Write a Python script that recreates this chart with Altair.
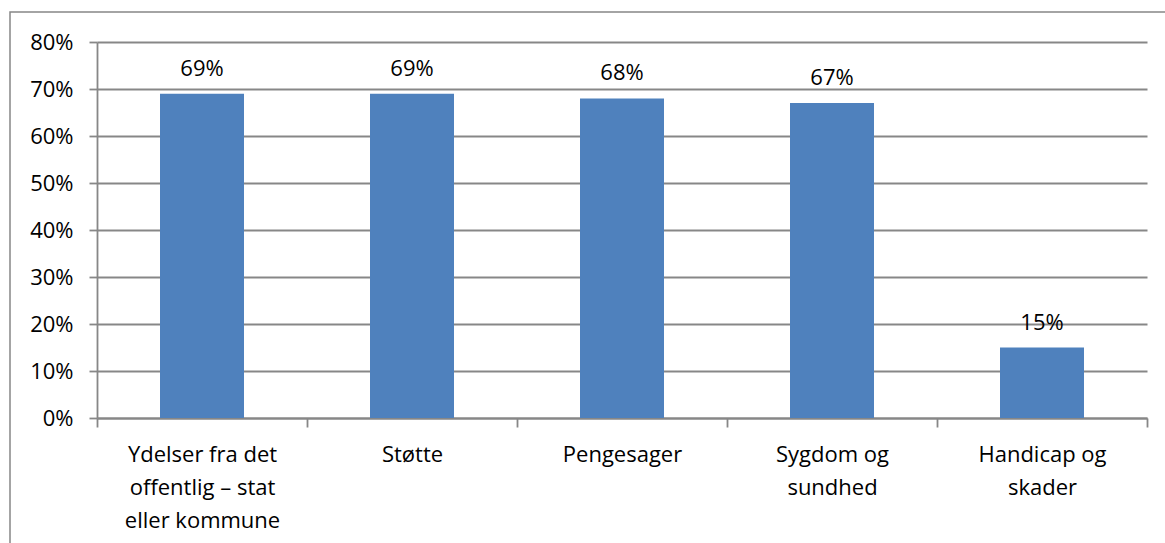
import json
import altair as alt
import pandas as pd

# Share of cases per topic
categories = [
    "Ydelser fra det offentlig – stat eller kommune",
    "Støtte",
    "Pengesager",
    "Sygdom og sundhed",
    "Handicap og skader",
]
shares = [0.69, 0.69, 0.68, 0.67, 0.15]

# Wrapped axis labels, one list of lines per category
label_lines = [
    ["Ydelser fra det", "offentlig – stat", "eller kommune"],
    ["Støtte"],
    ["Pengesager"],
    ["Sygdom og", "sundhed"],
    ["Handicap og", "skader"],
]

df = pd.DataFrame({"category": categories, "share": shares})
label_map = json.dumps(dict(zip(categories, label_lines)), ensure_ascii=False)

FONT = "Open Sans"
SIZE = 22
GRAY = "#878787"
BLUE = "#4F81BD"

x = alt.X(
    "category:N",
    sort=categories,
    scale=alt.Scale(paddingInner=0, paddingOuter=0),
    axis=alt.Axis(
        title=None,
        labelAngle=0,
        ticks=True,
        tickBand="extent",
        labelExpr=f"{label_map}[datum.label]",
        labelFont=FONT,
        labelFontSize=SIZE,
        labelColor="#000000",
        labelPadding=17,
        labelLineHeight=33,
        labelBaseline="top",
        domainColor=GRAY,
        domainWidth=1.8,
        tickColor=GRAY,
        tickWidth=1.8,
        tickSize=9,
        grid=False,
    ),
)

y = alt.Y(
    "share:Q",
    scale=alt.Scale(domain=[0, 0.8], nice=False),
    axis=alt.Axis(
        title=None,
        format=".0%",
        values=[0, 0.1, 0.2, 0.3, 0.4, 0.5, 0.6, 0.7, 0.8],
        labelFont=FONT,
        labelFontSize=SIZE,
        labelColor="#000000",
        labelPadding=16,
        grid=True,
        gridColor=GRAY,
        gridWidth=1.8,
        domainColor=GRAY,
        domainWidth=1.8,
        tickColor=GRAY,
        tickWidth=1.8,
        tickSize=8,
    ),
)

base = alt.Chart(df)

bars = base.mark_bar(color=BLUE, width=alt.RelativeBandSize(0.4)).encode(x=x, y=y)

labels = base.mark_text(
    font=FONT, fontSize=SIZE, color="#000000", baseline="alphabetic", dy=-18
).encode(x=x, y=y, text=alt.Text("share:Q", format=".0%"))

frame = alt.Chart(alt.Data(values=[{}])).mark_rect(
    fill=None, stroke=GRAY, strokeWidth=1.5
).encode(
    x=alt.value(-87), x2=alt.value(1200), y=alt.value(-30), y2=alt.value(620)
)

chart = (
    alt.layer(frame, bars, labels)
    .properties(
        width=1050,
        height=376,
        padding={"left": 97, "top": 42, "right": 18, "bottom": 125},
        autosize=alt.AutoSizeParams(type="none"),
        background="#ffffff",
    )
    .configure_view(stroke=None)
)

chart.save("out.html", embed_options={"renderer": "svg", "actions": False})
